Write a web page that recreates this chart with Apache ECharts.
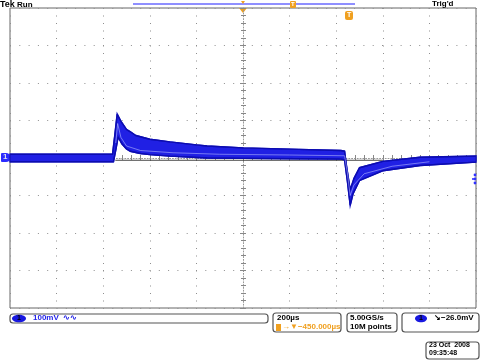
<!DOCTYPE html>
<html><head><meta charset="utf-8">
<script src="https://cdn.jsdelivr.net/npm/echarts@6/dist/echarts.min.js"></script>
<style>html,body{margin:0;padding:0;background:#fff}#c{width:480px;height:360px}</style>
</head><body><div id="c"></div>
<script>
// x in divisions (200µs/div, centre = 0), y in mV (100mV/div)
const upperX = [-5, -2.80, -2.75, -2.70, -2.62, -2.50, -2.42, -2.30, -2.00, -1.57, -1.00, -0.77, 0, 1.2, 2.10, 2.18, 2.22, 2.30, 2.38, 2.50, 3.00, 3.80, 5];
const upperY = [10, 10, 62, 117, 98, 76, 70, 60, 50, 43, 35, 32, 27, 23, 20, 18, -20, -85, -55, -26, -9, 2, 5];
const lowerX = [-5, -2.78, -2.72, -2.68, -2.60, -2.50, -2.42, -2.20, -2.00, -1.57, -0.77, 0, 1.2, 2.10, 2.18, 2.24, 2.30, 2.36, 2.50, 3.00, 3.80, 5];
const lowerY = [-10, -10, 28, 56, 38, 24, 18, 12, 9, 5, 0, -1, -2, -3, -5, -62, -126, -96, -60, -34, -20, -11];
const whiteX = [-2.73, -2.69, -2.62, -2.50, -2.20, -1.50, -0.50, 1.00, 2.18, 2.24, 2.30, 2.38, 2.60, 3.20, 4.00];
const whiteY = [40, 92, 55, 32, 20, 14, 10, 8, 6, -40, -100, -72, -42, -22, -10];
const flatX = [-2.74, 3.0];
const flatY = [-6, -6];

const chart = echarts.init(document.getElementById('c'), null, {renderer: 'canvas'});
const pair = (xs, ys) => xs.map((x, i) => [x, ys[i]]);
const F = 'Liberation Sans, Arial, sans-serif';
const BLUE = '#2020e4';
const ORANGE = '#f0a020';

function box(x, y, w, h) {
  return {type: 'rect', shape: {x: x, y: y, width: w, height: h, r: 3},
    style: {fill: '#fff', stroke: '#555', lineWidth: 1.2}};
}
function txt(x, y, s, color, size, weight) {
  return {type: 'text', x: x, y: y,
    style: {text: s, fill: color || '#000', font: (weight || 'bold') + ' ' + (size || 8) + 'px ' + F}};
}

const option = {
  animation: false,
  backgroundColor: '#fff',
  grid: {left: 10, top: 8, right: 4, bottom: 52, show: true, borderColor: '#666', borderWidth: 1},
  xAxis: [{
    type: 'value', min: -5, max: 5, interval: 1,
    axisLine: {show: true, onZero: true, lineStyle: {color: '#999', type: [1, 1.8]}},
    axisTick: {show: true, inside: true, length: 3, lineStyle: {color: '#888'}},
    minorTick: {show: true, splitNumber: 5, length: 3, lineStyle: {color: '#888'}},
    axisLabel: {show: false},
    splitLine: {show: true, lineStyle: {color: '#8f8f8f', type: [1, 6.5], width: 1}}
  }, {
    type: 'value', min: -5, max: 5, interval: 1, position: 'top',
    axisLine: {show: false},
    axisTick: {show: true, inside: true, length: 3, lineStyle: {color: '#888'}},
    minorTick: {show: true, splitNumber: 5, length: 2, lineStyle: {color: '#888'}},
    axisLabel: {show: false}, splitLine: {show: false}
  }],
  yAxis: [{
    type: 'value', min: -400, max: 400, interval: 100,
    axisLine: {show: true, onZero: true, lineStyle: {color: '#999', type: [1, 1.8]}},
    axisTick: {show: true, inside: true, length: 3, lineStyle: {color: '#888'}},
    minorTick: {show: true, splitNumber: 5, length: 3, lineStyle: {color: '#888'}},
    axisLabel: {show: false},
    splitLine: {show: true, lineStyle: {color: '#8f8f8f', type: [1, 8.3], width: 1}}
  }, {
    type: 'value', min: -400, max: 400, interval: 100, position: 'right',
    axisLine: {show: false},
    axisTick: {show: true, inside: true, length: 3, lineStyle: {color: '#888'}},
    minorTick: {show: true, splitNumber: 5, length: 2, lineStyle: {color: '#888'}},
    axisLabel: {show: false}, splitLine: {show: false}
  }],
  series: [{
    type: 'custom', xAxisIndex: 0, yAxisIndex: 0, data: [[0, 0]], z: 3,
    renderItem: function (params, api) {
      const pts = [];
      for (let i = 0; i < upperX.length; i++) pts.push(api.coord([upperX[i], upperY[i]]));
      for (let i = lowerX.length - 1; i >= 0; i--) pts.push(api.coord([lowerX[i], lowerY[i]]));
      return {type: 'polygon', shape: {points: pts}, style: {fill: BLUE, stroke: '#1414c0', lineWidth: 1.5}};
    }
  }, {
    type: 'line', data: pair(upperX, upperY), showSymbol: false, z: 4,
    lineStyle: {color: '#0c0cb0', width: 1.3}
  }, {
    type: 'line', data: pair(lowerX, lowerY), showSymbol: false, z: 4,
    lineStyle: {color: '#0c0cb0', width: 1.3}
  }, {
    type: 'line', data: pair(whiteX, whiteY), showSymbol: false, z: 5,
    lineStyle: {color: 'rgba(190,195,255,0.55)', width: 1}
  }, {
    type: 'line', data: pair(flatX, flatY), showSymbol: false, z: 2,
    lineStyle: {color: '#444', width: 1}
  }],
  graphic: [
    txt(0, 0, 'Tek', '#000', 9, 'bold'),
    txt(17, 1, 'Run', '#000', 8, 'bold'),
    txt(432, 0, "Trig'd", '#000', 8, 'bold'),
    {type: 'line', shape: {x1: 133, y1: 4, x2: 355, y2: 4}, style: {stroke: '#6a6aff', lineWidth: 1.5}},
    {type: 'polygon', shape: {points: [[241, 1], [245, 1], [243, 4]]}, style: {fill: ORANGE}},
    {type: 'rect', shape: {x: 290, y: 1, width: 6, height: 7, r: 1}, style: {fill: ORANGE}},
    txt(291, 1, 'T', '#fff', 6, 'bold'),
    {type: 'polygon', shape: {points: [[239, 8], [247, 8], [243, 13]]}, style: {fill: ORANGE}},
    {type: 'rect', shape: {x: 345, y: 11, width: 8, height: 9, r: 2}, style: {fill: ORANGE}},
    txt(347, 12, 'T', '#fff', 7, 'bold'),
    // channel 1 ground marker
    {type: 'rect', shape: {x: 1, y: 153, width: 9, height: 9, r: [1, 4, 4, 1]}, style: {fill: '#2a2aff'}},
    txt(3, 153, '1', '#dde', 8, 'bold'),
    // right-edge dots
    {type: 'circle', shape: {cx: 475, cy: 175, r: 1.4}, style: {fill: '#3030ff'}},
    {type: 'circle', shape: {cx: 475, cy: 179, r: 1.4}, style: {fill: '#3030ff'}},
    {type: 'circle', shape: {cx: 475, cy: 183, r: 1.4}, style: {fill: '#3030ff'}},
    {type: 'circle', shape: {cx: 473, cy: 179, r: 1.1}, style: {fill: '#3030ff'}},
    // bottom readouts
    box(10, 314, 258, 9),
    {type: 'ellipse', shape: {cx: 19, cy: 318.5, rx: 7, ry: 3.8}, style: {fill: '#1818e0'}},
    txt(17, 315, '1', '#000', 7, 'bold'),
    txt(33, 314, '100mV  \u223F\u223F', '#2424e8', 8, 'bold'),
    box(273, 313, 68, 19),
    txt(277, 314, '200\u00B5s', '#000', 8, 'bold'),
    {type: 'rect', shape: {x: 276, y: 324, width: 5, height: 7}, style: {fill: ORANGE}},
    txt(282, 323, '\u2192\u25BC\u2212450.000\u00B5s', ORANGE, 8, 'bold'),
    box(347, 313, 50, 19),
    txt(350, 314, '5.00GS/s', '#000', 8, 'bold'),
    txt(350, 323, '10M points', '#000', 8, 'bold'),
    box(402, 313, 77, 19),
    {type: 'ellipse', shape: {cx: 421, cy: 318.5, rx: 6, ry: 3.8}, style: {fill: '#1818e0'}},
    txt(419, 315, '1', '#000', 7, 'bold'),
    txt(434, 314, '\u2198\u221226.0mV', '#000', 8, 'bold'),
    box(426, 342, 53, 17),
    txt(429, 342, '23 Oct  2008', '#000', 7, 'bold'),
    txt(429, 350, '09:35:48', '#000', 7, 'bold')
  ]
};
chart.setOption(option);
</script></body></html>
